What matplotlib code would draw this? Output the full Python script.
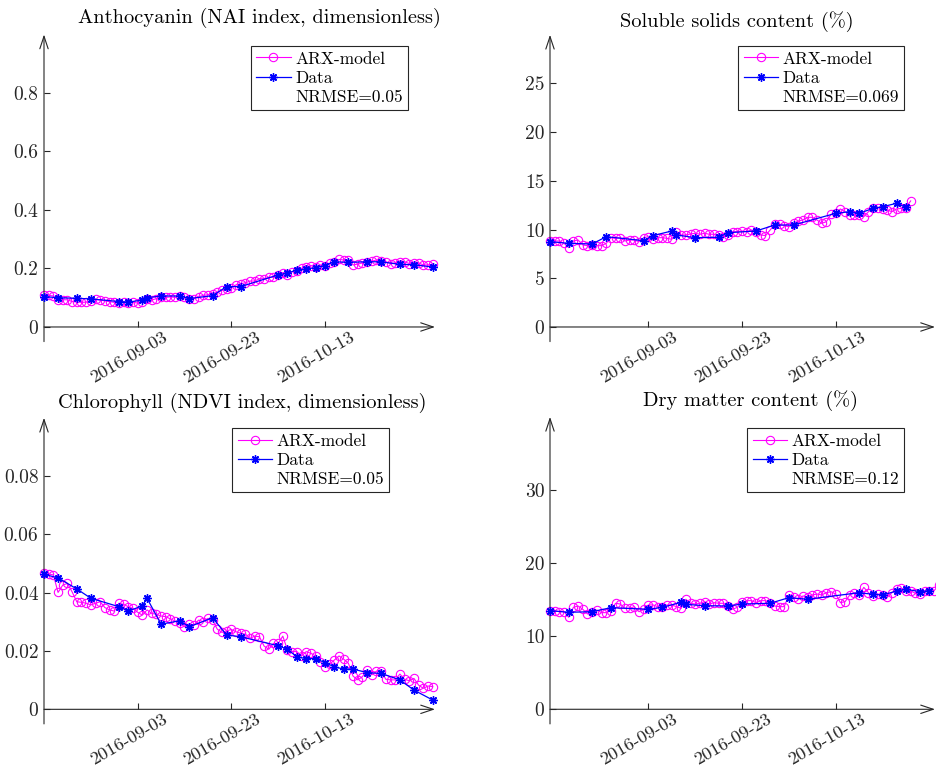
import numpy as np
import pandas as pd
import matplotlib
matplotlib.use("Agg")
import matplotlib.pyplot as plt
import matplotlib.dates as mdates
from matplotlib.lines import Line2D
from matplotlib.ticker import FuncFormatter, FixedLocator
from matplotlib.transforms import ScaledTranslation

plt.rcParams['font.family'] = ['cmr10', 'DejaVu Serif']
plt.rcParams['axes.unicode_minus'] = False
plt.rcParams['axes.formatter.use_mathtext'] = False

# ---- data (day offsets from the first sample date) ----
# Anthocyanin (NAI)
anth_data_day = [0, 3, 7, 10, 16, 18, 21, 22, 25, 29, 31, 36, 39, 42, 50, 52, 54, 56, 58, 60,
                 62, 65, 69, 72, 76, 79, 83]
anth_data_val = [0.104, 0.100, 0.098, 0.096, 0.087, 0.085, 0.092, 0.100, 0.106, 0.106, 0.097,
                 0.107, 0.138, 0.138, 0.178, 0.184, 0.195, 0.198, 0.203, 0.210, 0.223, 0.221,
                 0.223, 0.223, 0.214, 0.213, 0.205]
anth_model = [0.108, 0.108, 0.106, 0.091, 0.093, 0.093, 0.087, 0.085, 0.084, 0.085,
              0.089, 0.094, 0.092, 0.089, 0.087, 0.084, 0.082, 0.084, 0.082, 0.084,
              0.082, 0.087, 0.094, 0.092, 0.097, 0.103, 0.101, 0.103, 0.101, 0.106,
              0.103, 0.094, 0.097, 0.103, 0.108, 0.110, 0.114, 0.119, 0.125, 0.131,
              0.134, 0.144, 0.148, 0.151, 0.157, 0.157, 0.165, 0.165, 0.170, 0.170,
              0.178, 0.186, 0.178, 0.189, 0.191, 0.200, 0.206, 0.210, 0.206, 0.212,
              0.209, 0.218, 0.223, 0.231, 0.229, 0.229, 0.212, 0.215, 0.219, 0.223,
              0.225, 0.229, 0.226, 0.223, 0.217, 0.219, 0.223, 0.223, 0.217, 0.219,
              0.219, 0.212, 0.212, 0.215]

# Soluble solids content
ssc_data_day = [0, 4, 9, 12, 20, 22, 26, 27, 31, 36, 38, 44, 48, 52, 61, 64, 66, 69, 71, 74, 76]
ssc_data_val = [8.76, 8.59, 8.52, 9.27, 8.86, 9.38, 9.86, 9.45, 9.17, 9.21, 9.68, 9.86, 10.47,
                10.47, 11.67, 11.84, 11.67, 12.18, 12.35, 12.70, 12.29]
ssc_model = [8.83, 8.83, 8.83, 8.59, 8.15, 8.83, 8.93, 8.42, 8.35, 8.42,
             8.35, 8.35, 8.59, 9.17, 9.10, 9.17, 8.83, 8.93, 8.93, 8.76,
             9.17, 9.27, 9.03, 9.17, 9.17, 9.10, 9.00, 9.79, 9.45, 9.45,
             9.55, 9.62, 9.52, 9.62, 9.52, 9.52, 9.45, 9.21, 9.45, 9.79,
             9.79, 9.86, 9.79, 9.96, 9.79, 9.45, 9.38, 9.96, 10.54, 10.54,
             10.40, 10.30, 10.64, 10.88, 10.99, 11.26, 11.26, 10.99, 10.64, 10.81,
             11.57, 11.67, 12.12, 11.84, 11.50, 11.50, 11.50, 11.33, 11.84, 12.18,
             12.25, 12.12, 12.01, 11.84, 12.12, 12.18, 12.25, 12.94]

# Chlorophyll (NDVI)
chl_data_day = [0, 3, 7, 10, 16, 18, 21, 22, 25, 29, 31, 36, 39, 42, 50, 52, 54, 56, 58, 60,
                62, 64, 66, 69, 72, 76, 79, 83]
chl_data_val = [0.0463, 0.0451, 0.0413, 0.0381, 0.0352, 0.0337, 0.0355, 0.0381, 0.0292, 0.0304,
                0.0283, 0.0314, 0.0255, 0.0249, 0.0218, 0.0206, 0.0180, 0.0174, 0.0174, 0.0160,
                0.0146, 0.0138, 0.0138, 0.0126, 0.0123, 0.0101, 0.0066, 0.0032]
chl_model = [0.0467, 0.0464, 0.0461, 0.0401, 0.0426, 0.0432, 0.0403, 0.0369, 0.0367, 0.0364,
             0.0358, 0.0364, 0.0369, 0.0349, 0.0341, 0.0337, 0.0364, 0.0360, 0.0352, 0.0346,
             0.0333, 0.0323, 0.0341, 0.0329, 0.0326, 0.0320, 0.0318, 0.0310, 0.0303, 0.0295,
             0.0283, 0.0292, 0.0289, 0.0306, 0.0301, 0.0312, 0.0306, 0.0275, 0.0264, 0.0269,
             0.0274, 0.0266, 0.0261, 0.0258, 0.0244, 0.0251, 0.0249, 0.0217, 0.0206, 0.0226,
             0.0226, 0.0251, 0.0203, 0.0198, 0.0198, 0.0183, 0.0198, 0.0192, 0.0183, 0.0163,
             0.0146, 0.0155, 0.0169, 0.0183, 0.0172, 0.0158, 0.0114, 0.0101, 0.0112, 0.0135,
             0.0118, 0.0131, 0.0131, 0.0103, 0.0101, 0.0101, 0.0121, 0.0103, 0.0098, 0.0106,
             0.0083, 0.0072, 0.0080, 0.0078]

# Dry matter content
dmc_data_day = [0, 4, 9, 13, 21, 24, 28, 29, 33, 38, 41, 47, 51, 55, 66, 69, 71, 74, 76, 79, 81]
dmc_data_val = [13.49, 13.27, 13.35, 13.90, 13.68, 13.95, 14.63, 14.36, 14.17, 14.13, 14.40,
                14.50, 15.27, 15.05, 15.95, 15.73, 15.64, 16.18, 16.42, 16.09, 16.22]
dmc_model = [13.49, 13.49, 13.35, 13.35, 12.58, 13.95, 14.13, 13.68, 13.04, 13.35,
             13.58, 13.22, 13.22, 13.49, 14.50, 14.40, 13.81, 13.81, 14.04, 13.35,
             13.68, 14.27, 14.27, 14.04, 13.95, 14.27, 14.27, 14.04, 13.81, 15.05,
             14.50, 14.40, 14.50, 14.72, 14.40, 14.59, 14.50, 14.50, 14.13, 13.68,
             13.95, 14.63, 14.86, 14.86, 14.59, 14.86, 14.86, 14.50, 14.13, 14.04,
             14.04, 15.64, 15.32, 15.05, 15.50, 15.41, 15.64, 15.77, 15.64, 15.95,
             16.09, 15.77, 14.59, 14.72, 15.64, 15.95, 15.64, 16.68, 15.95, 15.50,
             15.77, 15.64, 15.32, 15.95, 16.42, 16.55, 16.22, 16.22, 15.86, 15.77,
             16.22, 16.22, 16.22, 17.00]

titles = ["Anthocyanin (NAI index, dimensionless)", "Soluble solids content (%)",
          "Chlorophyll (NDVI index, dimensionless)", "Dry matter content (%)"]
nrmse = ["0.05", "0.069", "0.05", "0.12"]
tick_dates = ["2016-09-03", "2016-09-23", "2016-10-13"]

W, H = 936, 771
fig = plt.figure(figsize=(W / 100, H / 100), dpi=100)


def px_axes(x0, y_top, x1, y_bot):
    return fig.add_axes([x0 / W, 1 - y_bot / H, (x1 - x0) / W, (y_bot - y_top) / H])


AX_COL = (0.15, 0.15, 0.15)

panels = [
    # rect px, start date, xspan days, ylim, yticks, title pos px, legend upper-left px
    dict(rect=(44, 34.5, 435, 341.6), start="2016-08-14", span=83.5, ylim=(-0.05, 1.0),
         yticks=[0, 0.2, 0.4, 0.6, 0.8], dday=anth_data_day, dval=anth_data_val, model=anth_model,
         tpos=(259.5, 23), leg=(250.7, 46)),
    dict(rect=(550, 34.8, 935, 341.6), start="2016-08-13", span=82.2, ylim=(-1.5, 30),
         yticks=[0, 5, 10, 15, 20, 25], dday=ssc_data_day, dval=ssc_data_val, model=ssc_model,
         tpos=(737, 26.5), leg=(738.3, 46)),
    dict(rect=(44, 417.8, 435, 723.9), start="2016-08-14", span=83.5, ylim=(-0.005, 0.1),
         yticks=[0, 0.02, 0.04, 0.06, 0.08], dday=chl_data_day, dval=chl_data_val, model=chl_model,
         tpos=(242.5, 408), leg=(232.3, 428.3)),
    dict(rect=(550, 416.9, 935, 723.9), start="2016-08-13", span=82.2, ylim=(-2, 40),
         yticks=[0, 10, 20, 30], dday=dmc_data_day, dval=dmc_data_val, model=dmc_model,
         tpos=(750.5, 405.5), leg=(747.3, 428.3)),
]

for i, p in enumerate(panels):
    ax = px_axes(*p["rect"])
    start = pd.Timestamp(p["start"])
    model_dates = pd.date_range(start, periods=len(p["model"]), freq="D")
    data_dates = [start + pd.Timedelta(days=d) for d in p["dday"]]

    ax.plot(model_dates, p["model"], color=(1, 0, 1), lw=0.8, marker="o", ms=6,
            mfc="none", mec=(1, 0, 1), mew=0.8, clip_on=False, zorder=3)
    ax.plot(data_dates, p["dval"], color=(0, 0, 1), lw=0.9, marker=(8, 2, 0), ms=6,
            mec=(0, 0, 1), mew=1.0, clip_on=False, zorder=4)

    ax.set_xlim(start, start + pd.Timedelta(days=p["span"]))
    ax.set_ylim(*p["ylim"])

    for s in ax.spines.values():
        s.set_visible(False)
    ax.spines["bottom"].set_position(("data", 0))

    ax.xaxis.set_major_locator(FixedLocator(mdates.date2num(pd.to_datetime(tick_dates))))
    ax.xaxis.set_major_formatter(mdates.DateFormatter("%Y-%m-%d"))
    ax.yaxis.set_major_locator(FixedLocator(p["yticks"]))
    ax.yaxis.set_major_formatter(FuncFormatter(lambda v, pos: "%g" % v))
    ax.tick_params(axis="both", direction="in", length=4, width=0.8, color=AX_COL,
                   labelcolor=AX_COL, labelsize=14)
    ax.tick_params(axis="y", pad=4)
    ax.tick_params(axis="x", pad=1.5, labelsize=13.3)
    for lab in ax.get_xticklabels():
        lab.set_rotation(30)
        lab.set_ha("center")
        lab.set_va("top")
        lab.set_transform(lab.get_transform() + ScaledTranslation(-9 / 100, 0, fig.dpi_scale_trans))

    # arrow axes
    arr = dict(arrowstyle="->,head_length=0.9,head_width=0.3", color=AX_COL, lw=0.8,
               shrinkA=0, shrinkB=0, mutation_scale=10)
    ax.annotate("", xy=(0, 1), xytext=(0, 0), xycoords="axes fraction",
                textcoords="axes fraction", arrowprops=arr)
    ax.annotate("", xy=(1, 0), xytext=(0, 0), xycoords=ax.get_yaxis_transform(),
                textcoords=ax.get_yaxis_transform(), arrowprops=arr)

    x0, yt, x1, yb = p["rect"]
    tx = (p["tpos"][0] - x0) / (x1 - x0)
    ty = 1 + (yt - p["tpos"][1]) / (yb - yt)
    ax.text(tx, ty, titles[i], transform=ax.transAxes, ha="center", va="baseline",
            fontsize=14.7, color="black")

    handles = [
        Line2D([], [], color=(1, 0, 1), lw=0.8, marker="o", ms=6, mfc="none", mew=0.8),
        Line2D([], [], color=(0, 0, 1), lw=0.9, marker=(8, 2, 0), ms=6, mew=1.0),
        Line2D([], [], linestyle="none"),
    ]
    leg = ax.legend(handles, ["ARX-model", "Data", "NRMSE=" + nrmse[i]], loc="upper left",
                    bbox_to_anchor=(p["leg"][0] / W, 1 - p["leg"][1] / H),
                    bbox_transform=fig.transFigure, borderaxespad=0, fontsize=12.5,
                    numpoints=1, handlelength=2.0, handletextpad=0.25, labelspacing=0.22,
                    borderpad=0.3, fancybox=False, framealpha=1, edgecolor=AX_COL)
    leg.get_frame().set_linewidth(0.8)

fig.savefig("out.png", dpi=100)
